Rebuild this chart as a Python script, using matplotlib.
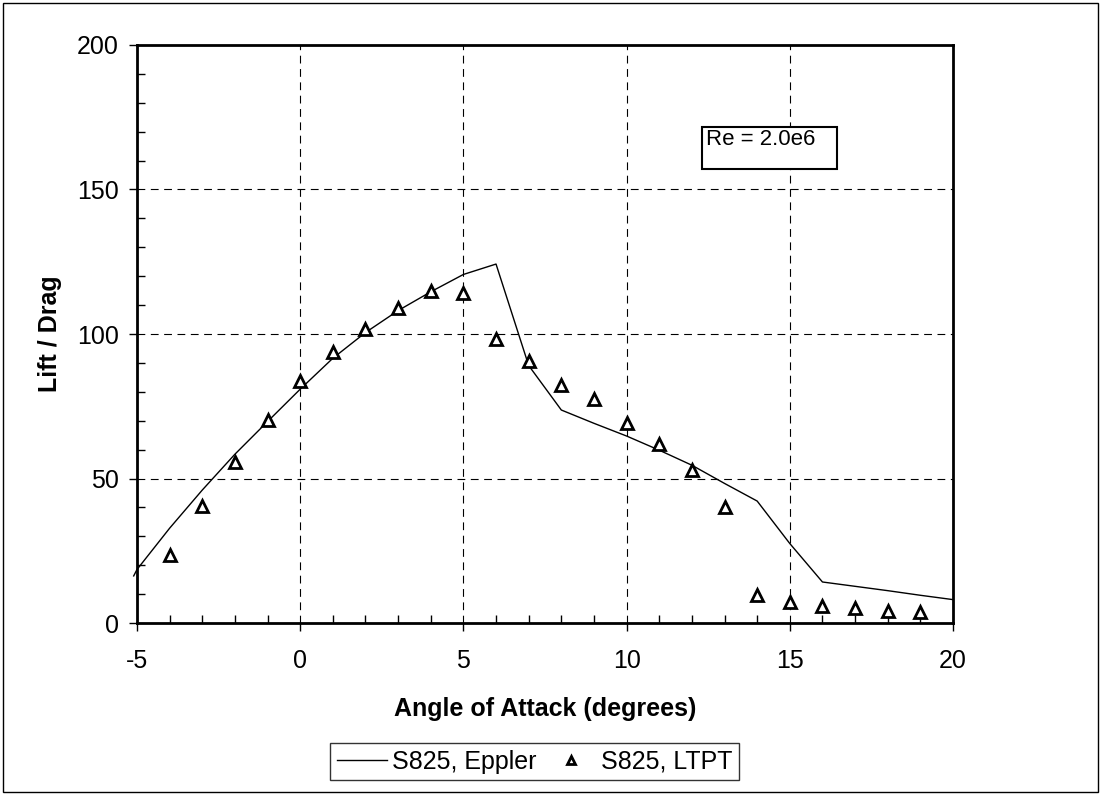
import matplotlib
matplotlib.use("Agg")
import matplotlib.pyplot as plt
from matplotlib.patches import Rectangle
from matplotlib.ticker import MultipleLocator

plt.rcParams["font.family"] = ["Liberation Sans", "DejaVu Sans"]
plt.rcParams["axes.unicode_minus"] = False

# Eppler prediction (line)
eppler_alpha = [-5.1, -5, -4, -3, -2, -1, 0, 1, 2, 3, 4, 5, 6, 7, 8, 9, 10, 11, 12, 13, 14, 15, 16, 17, 18, 19, 20]
eppler_ld = [16.3, 18.5, 32.8, 46.0, 58.4, 69.7, 80.9, 91.6, 100.5, 108.1, 114.6, 120.6, 124.2,
             89.1, 73.7, 69.1, 64.7, 59.8, 54.6, 48.3, 42.2, 27.5, 14.2, 12.7, 11.2, 9.6, 8.1]

# LTPT wind-tunnel measurements (triangles)
ltpt_alpha = [-4, -3, -2, -1, 0, 1, 2, 3, 4, 5, 6, 7, 8, 9, 10, 11, 12, 13, 14, 15, 16, 17, 18, 19]
ltpt_ld = [23.5, 40.5, 55.8, 70.2, 83.7, 93.9, 101.6, 109.1, 114.9, 114.3, 98.2, 90.8,
           82.3, 77.6, 69.3, 62.0, 53.0, 40.2, 9.6, 7.4, 6.0, 5.3, 4.3, 3.8]

fig = plt.figure(figsize=(11.01, 7.96), dpi=100)
ax = fig.add_axes([0.1244, 0.2173, 0.7412, 0.7262])

ax.plot(eppler_alpha, eppler_ld, color="black", linewidth=1.0, label="S825, Eppler", clip_on=False)
ax.plot(ltpt_alpha, ltpt_ld, linestyle="none", marker="^", markersize=9, markerfacecolor="white",
        markeredgecolor="black", markeredgewidth=2.0, label="S825, LTPT")

ax.set_xlim(-5, 20)
ax.set_ylim(0, 200)
ax.xaxis.set_major_locator(MultipleLocator(5))
ax.xaxis.set_minor_locator(MultipleLocator(1))
ax.yaxis.set_major_locator(MultipleLocator(50))
ax.yaxis.set_minor_locator(MultipleLocator(10))
ax.tick_params(which="major", direction="out", length=6, width=1, labelsize=18)
ax.tick_params(axis="x", which="major", pad=13)
ax.tick_params(axis="y", which="major", pad=7)
ax.tick_params(which="minor", direction="in", length=6, width=1)

ax.grid(True, which="major", color="black", linestyle=(0, (7, 5)), linewidth=0.8)
for sp in ax.spines.values():
    sp.set_linewidth(2)

ax.set_xlabel("Angle of Attack (degrees)", fontsize=18, fontweight="bold", labelpad=17)
ax.set_ylabel("Lift / Drag", fontsize=18, fontweight="bold", labelpad=11)

# Reynolds number box
ax.add_patch(Rectangle((0.693, 0.785), 0.165, 0.073, transform=ax.transAxes,
                       facecolor="white", edgecolor="black", linewidth=1.5, zorder=5))
ax.text(0.697, 0.854, "Re = 2.0e6", transform=ax.transAxes, fontsize=16,
        ha="left", va="top", zorder=6)

leg = fig.legend(loc="center", bbox_to_anchor=(0.4855, 0.0433), ncol=2, fontsize=18,
                 frameon=True, fancybox=False, edgecolor="black", handlelength=2.0,
                 columnspacing=0.4, handletextpad=0.2, borderpad=0.25, borderaxespad=0)
leg.get_frame().set_linewidth(1.0)
for h in leg.legend_handles:
    if h.get_marker() == "^":
        h.set_markersize(6)

# outer chart border
fig.patches.append(Rectangle((0.003, 0.005), 0.994, 0.991, transform=fig.transFigure,
                             fill=False, edgecolor="black", linewidth=1.0))

fig.savefig("out.png", dpi=100)
